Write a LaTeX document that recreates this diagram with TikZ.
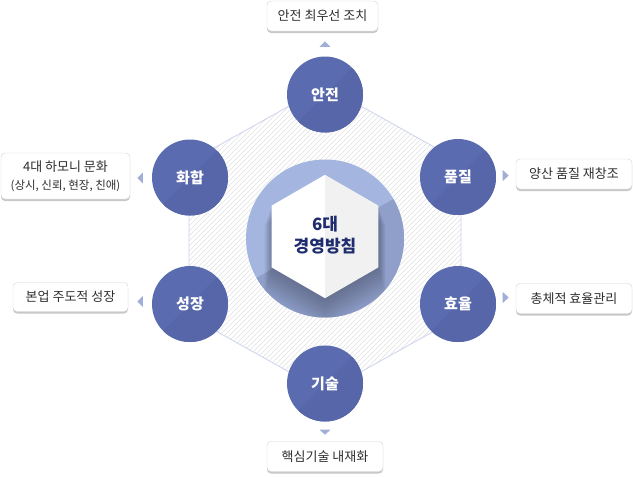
\documentclass[tikz,border=0pt]{standalone}
\usepackage{fontspec}
\newfontfamily\kr{Noto Sans CJK KR}
\usetikzlibrary{calc}
\definecolor{circlight}{HTML}{5B6BB0}
\definecolor{circdark}{HTML}{5666A8}
\definecolor{ringlight}{HTML}{A4B5E0}
\definecolor{ringdark}{HTML}{909FCA}
\definecolor{hexline}{HTML}{CDD3EC}
\definecolor{hatchcol}{HTML}{E2E2E2}
\definecolor{tricol}{HTML}{A0AED8}
\definecolor{boxline}{HTML}{D4D4D4}
\definecolor{boxshadow}{HTML}{C8C8C8}
\definecolor{txt}{HTML}{2E2E2E}
\definecolor{navy}{HTML}{1F2D6E}
\definecolor{hexgray}{HTML}{F1F1F1}
\begin{document}
\begin{tikzpicture}[x=1pt,y=-1pt,
  circ/.style={circle, minimum size=76pt, inner sep=0pt, fill=circlight, text=white,
    font=\kr\bfseries\fontsize{15}{18}\selectfont,
    path picture={\fill[circdark] (path picture bounding box.north east) -- (path picture bounding box.south west) -- (path picture bounding box.south east) -- cycle;}},
  lbl/.style={rounded corners=4pt, draw=boxline, fill=white, text=txt, align=center, inner sep=0pt,
    font=\kr\fontsize{13}{18}\selectfont,
    preaction={fill=boxshadow, transform canvas={yshift=-2pt}}},
  tri/.style={fill=tricol, draw=none},
  hatch/.style={draw=hatchcol, line width=0.65pt}]
\useasboundingbox (0,0) rectangle (633,477);

% outer hexagon with hatch
\coordinate (hT) at (325,86);
\coordinate (hTR) at (461,162);
\coordinate (hBR) at (461,316);
\coordinate (hB) at (325,392);
\coordinate (hBL) at (189,316);
\coordinate (hTL) at (189,162);
\fill[white] (hT) -- (hTR) -- (hBR) -- (hB) -- (hBL) -- (hTL) -- cycle;
\begin{scope}
  \clip (hT) -- (hTR) -- (hBR) -- (hB) -- (hBL) -- (hTL) -- cycle;
  \foreach \i in {-125,-120,...,470} \draw[hatch] (\i,395) -- ++(310,-310);
\end{scope}
\draw[hexline, line width=0.8pt] (hT) -- (hTR) -- (hBR) -- (hB) -- (hBL) -- (hTL) -- cycle;

% central circle
\coordinate (C) at (325,238.5);
\fill[ringlight] (C) circle[radius=79];
\fill[ringdark] (C) ++(-30:79) arc[start angle=-30, end angle=150, radius=79] -- cycle;
\begin{scope}
  \clip (C) circle[radius=79];
  \foreach \d in {2,4,...,24}{
    \fill[black, opacity=0.022, shift={(325,236.5+\d)}, scale={1+\d/180}]
      (0,-61.7) -- (53.4,-30.85) -- (53.4,30.85) -- (0,61.7) -- (-53.4,30.85) -- (-53.4,-30.85) -- cycle;
  }
\end{scope}
% inner hexagon
\begin{scope}[shift={(325,236.5)}]
  \fill[white] (0,-61.7) -- (0,61.7) -- (-53.4,30.85) -- (-53.4,-30.85) -- cycle;
  \fill[hexgray] (0,-61.7) -- (53.4,-30.85) -- (53.4,30.85) -- (0,61.7) -- cycle;
\end{scope}
\node[text=navy, align=center, font=\kr\bfseries\fontsize{17}{22.5}\selectfont] (center) at (325,235) {6대\\경영방침};

% circles
\node[circ] (c1) at (325,94.5) {안전};
\node[circ] (c2) at (458,177) {품질};
\node[circ] (c3) at (458,304) {효율};
\node[circ] (c4) at (325,383.5) {기술};
\node[circ] (c5) at (190,304) {성장};
\node[circ] (c6) at (190,177.5) {화합};

% label boxes
\node[lbl, minimum width=111pt, minimum height=30pt] (l1) at (322.5,16) {안전 최우선 조치};
\node[lbl, minimum width=116pt, minimum height=30pt] (l2) at (574,174) {양산 품질 재창조};
\node[lbl, minimum width=116pt, minimum height=30pt] (l3) at (574,298.5) {총체적 효율관리};
\node[lbl, minimum width=116pt, minimum height=30pt] (l4) at (325,456.5) {핵심기술 내재화};
\node[lbl, minimum width=129pt, minimum height=46pt] (l5) at (65.5,176) {4대 하모니 문화\\{\fontsize{11.5}{18}\selectfont(상시, 신뢰, 현장, 친애)}};
\node[lbl, minimum width=115pt, minimum height=29pt] (l6) at (70.5,297) {본업 주도적 성장};

% small triangles
\fill[tri] ($(c1.north)+(0,-15)$) -- ($(c1.north)+(5.5,-9.5)$) -- ($(c1.north)+(-5.5,-9.5)$) -- cycle;
\fill[tri] ($(c4.south)+(0,13)$) -- ($(c4.south)+(5.5,8)$) -- ($(c4.south)+(-5.5,8)$) -- cycle;
\fill[tri] ($(c2.east)+(12.5,-1.5)$) -- ($(c2.east)+(6.5,-7)$) -- ($(c2.east)+(6.5,4)$) -- cycle;
\fill[tri] ($(c3.east)+(12.5,-6.5)$) -- ($(c3.east)+(6.5,-12)$) -- ($(c3.east)+(6.5,-1)$) -- cycle;
\fill[tri] ($(c6.west)+(-14.5,0.5)$) -- ($(c6.west)+(-9,-5)$) -- ($(c6.west)+(-9,6)$) -- cycle;
\fill[tri] ($(c5.west)+(-14.5,-2.5)$) -- ($(c5.west)+(-9,-8)$) -- ($(c5.west)+(-9,3)$) -- cycle;
\end{tikzpicture}
\end{document}
